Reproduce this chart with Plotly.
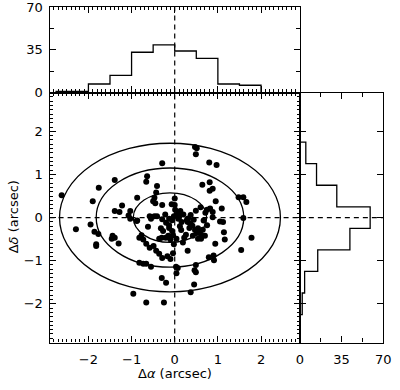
import plotly.graph_objects as go

# ---------------- data ----------------
dra = [-2.62, -0.29, -1.39, -0.64, -0.66, -1.76, -0.41, -1.90, -0.87, -0.43, -0.47, -0.50, -0.45,
       0.00, 0.00, -1.22, -1.39, -1.28, -1.03, -1.07, -0.47, -0.41, -0.29, -0.07, -0.58, -0.88,
       0.47, 0.51, 0.49, 0.80, 0.97, 0.81, 0.64, 0.88, 0.81, 0.95, 1.48, 1.59, 1.66, 1.09, 0.60,
       0.75, 0.82, 0.88, 0.71, 0.49, 0.37, 0.13, 0.04, 0.01, 0.09, 0.20,
       -2.29, -1.95, -1.86, -1.77, -1.82, -1.44, -1.39, -1.46, -1.30, -1.03, -0.87, -0.62, -0.82,
       -0.77, -0.73, -0.66, -0.58, -0.49, -0.55, -0.29, -0.13, -0.32, -0.27, -0.30, -0.36, -0.13,
       -0.06, -0.04, -0.10, -0.02, -0.43, -0.36, -0.29, -0.17, -0.10, -0.04, -0.82, -0.73, -0.66,
       -0.55, -0.30, -0.20, -0.96, -0.66, -0.25, -0.20, -0.06, -0.02, -0.13,
       1.59, 0.88, 1.05, 1.12, 1.14, 1.16, 1.78, 1.54, 0.94, 0.30, 0.79, 0.90, 0.91, 0.49, 0.46,
       0.49, 0.03, 0.04, 0.45, 0.37, 0.08, 0.16, 0.31, 0.36, 0.41, 0.34, 0.47, 0.54, 0.56, 0.51,
       0.61, 0.54, 0.67, 0.75, 0.15, 0.26, 0.04, 0.19, 0.28, 0.61,
       0.12, 0.22, 0.42, 0.30, 0.65, -0.22, -0.15, 0.10, 0.44, 0.70, -1.82, 0.07, -0.21]
ddec = [0.52, 1.26, 0.87, 0.96, 0.83, 0.69, 0.73, 0.38, 0.46, 0.58, 0.46, 0.38, 0.33,
        0.44, 0.29, 0.28, 0.15, 0.13, 0.15, 0.05, 0.03, 0.03, 0.29, 0.31, 0.03, -0.08,
        1.64, 1.61, 1.47, 1.28, 1.22, 0.82, 0.76, 0.67, 0.62, 0.38, 0.47, 0.47, 0.36, 0.21, 0.24,
        0.18, 0.21, 0.13, 0.11, 0.16, 0.06, 0.15, 0.06, 0.18, 0.10, 0.07,
        -0.27, -0.16, -0.33, -0.38, -0.62, -0.42, -0.47, -0.49, -0.60, -0.03, -0.07, -0.21, -0.47,
        -0.41, -0.51, -0.61, -0.70, -0.66, -0.03, -0.04, -0.03, -0.25, -0.31, -0.47, -0.49, -0.24,
        -0.31, -0.41, -0.51, -0.62, -0.77, -0.84, -0.94, -0.90, -0.96, -0.83, -1.05, -1.07, -1.07,
        -1.14, -1.40, -1.51, -1.77, -1.97, -1.97, -0.12, -0.06, 0.03, -0.18,
        -0.01, 0.01, -0.09, -0.10, -0.34, -0.51, -0.47, -0.75, -0.61, -0.77, -0.92, -0.88, -0.99,
        -1.10, -1.22, -1.27, -1.14, -1.29, -1.55, -1.73, -0.03, -0.10, -0.02, -0.14, -0.19, -0.24,
        -0.29, -0.25, -0.33, -0.36, -0.49, -0.49, -0.07, -0.18, -0.29, -0.40, -0.49, -0.58, -0.06,
        -0.40,
        -0.20, -0.47, -0.42, -0.10, -0.28, 0.07, -0.42, 0.00, -0.05, -0.42, -0.66, -1.17, -0.47]

# top histogram (Delta alpha)
top_edges = [-2.75, -2.0, -1.5, -1.0, -0.5, 0.0, 0.5, 1.0, 1.5, 2.0]
top_counts = [1, 7, 14, 33, 39, 34, 28, 7, 6]

# right histogram (Delta delta)
right_edges = [-2.25, -1.75, -1.25, -0.75, -0.25, 0.25, 0.75, 1.25, 1.75]
right_counts = [2, 4, 15, 42, 59, 31, 14, 5]

# ellipses (centre and semi-axes)
ell_center = (-0.11, 0.0)
ell_a = [0.85, 1.71, 2.56]
ell_b = [0.575, 1.15, 1.725]

xy_ticks = [-2, -1, 0, 1, 2]
hist_ticks = [0, 35, 70]

# ---------------- figure ----------------
W, H = 400, 390
def px_x(p):
    return p / W
def px_y(p):
    return (H - p) / H

main_xd = [px_x(47), px_x(305)]
main_yd = [px_y(349), px_y(89)]
top_yd = [px_y(89), 1.0]
right_xd = [px_x(305), px_x(391)]

FONT = "DejaVu Sans, Liberation Sans, sans-serif"

fig = go.Figure()

fig.add_trace(go.Scatter(x=dra, y=ddec, mode="markers", xaxis="x", yaxis="y",
                         marker=dict(color="black", size=6), showlegend=False,
                         hoverinfo="skip"))

# step histogram, top
tx, ty = [top_edges[0]], [0]
for i, c in enumerate(top_counts):
    tx += [top_edges[i], top_edges[i + 1]]
    ty += [c, c]
tx.append(top_edges[-1]); ty.append(0)
fig.add_trace(go.Scatter(x=tx, y=ty, mode="lines", xaxis="x2", yaxis="y2",
                         line=dict(color="black", width=1.3), showlegend=False,
                         hoverinfo="skip"))

# step histogram, right
rx, ry = [0], [right_edges[0]]
for i, c in enumerate(right_counts):
    rx += [c, c]
    ry += [right_edges[i], right_edges[i + 1]]
rx.append(0); ry.append(right_edges[-1])
fig.add_trace(go.Scatter(x=rx, y=ry, mode="lines", xaxis="x3", yaxis="y3",
                         line=dict(color="black", width=1.3), showlegend=False,
                         hoverinfo="skip"))

shapes = []
for a, b in zip(ell_a, ell_b):
    shapes.append(dict(type="circle", xref="x", yref="y",
                       x0=ell_center[0] - a, x1=ell_center[0] + a,
                       y0=ell_center[1] - b, y1=ell_center[1] + b,
                       line=dict(color="black", width=1.3)))
dash = "5px,4px"
shapes.append(dict(type="line", xref="x", yref="y domain", x0=0, x1=0, y0=0, y1=1,
                   line=dict(color="black", width=1.2, dash=dash)))
shapes.append(dict(type="line", xref="x2", yref="y2 domain", x0=0, x1=0, y0=0, y1=1,
                   line=dict(color="black", width=1.2, dash=dash)))
shapes.append(dict(type="line", xref="x domain", yref="y", x0=0, x1=1, y0=0, y1=0,
                   line=dict(color="black", width=1.2, dash=dash)))
shapes.append(dict(type="line", xref="x3 domain", yref="y3", x0=0, x1=1, y0=0, y1=0,
                   line=dict(color="black", width=1.2, dash=dash)))

tickfont = dict(family=FONT, size=13, color="black")
common = dict(showline=True, linecolor="black", linewidth=1.2, mirror="ticks",
              ticks="inside", tickcolor="black", ticklen=6, tickwidth=1,
              showgrid=False, zeroline=False, tickfont=tickfont,
              ticklabeloverflow="allow")
minor_xy = dict(ticks="inside", ticklen=3, dtick=0.1, tickcolor="black", tickwidth=1, showgrid=False)
minor_h = dict(ticks="inside", ticklen=4, dtick=17.5, tickcolor="black", tickwidth=1, showgrid=False)

fig.update_layout(
    width=W, height=H, margin=dict(l=0, r=0, t=0, b=0),
    paper_bgcolor="white", plot_bgcolor="white",
    shapes=shapes, hovermode=False,
    xaxis=dict(domain=main_xd, anchor="y", range=[-2.9, 2.9], tickvals=xy_ticks,
               minor=minor_xy, ticklabelstandoff=5, **common),
    yaxis=dict(domain=main_yd, anchor="x", range=[-2.9, 2.9], tickvals=xy_ticks,
               minor=minor_xy, ticklabelstandoff=3, **common),
    xaxis2=dict(domain=main_xd, anchor="y2", range=[-2.9, 2.9], tickvals=xy_ticks,
                showticklabels=False, minor=minor_xy, **common),
    yaxis2=dict(domain=top_yd, anchor="x2", range=[0, 70], tickvals=hist_ticks,
                minor=minor_h, ticklabelstandoff=3, **common),
    xaxis3=dict(domain=right_xd, anchor="y3", range=[0, 70.001], tickvals=hist_ticks,
                minor=minor_h, ticklabelstandoff=5, **common),
    yaxis3=dict(domain=main_yd, anchor="x3", range=[-2.9, 2.9], tickvals=xy_ticks,
                showticklabels=False, **common),
    annotations=[
        dict(text="Δ<i>α</i> (arcsec)", x=px_x(176), y=px_y(381), xref="paper", yref="paper",
             showarrow=False, font=dict(family=FONT, size=13, color="black"),
             xanchor="center", yanchor="middle"),
        dict(text="Δ<i>δ</i> (arcsec)", x=px_x(10), y=px_y(218), xref="paper", yref="paper",
             showarrow=False, textangle=-90,
             font=dict(family=FONT, size=13, color="black"),
             xanchor="center", yanchor="middle"),
    ],
)

fig.write_html("out.html", config={"displayModeBar": False},
               post_script="document.body.style.margin='0px';"
                           "document.body.style.overflow='hidden';")
